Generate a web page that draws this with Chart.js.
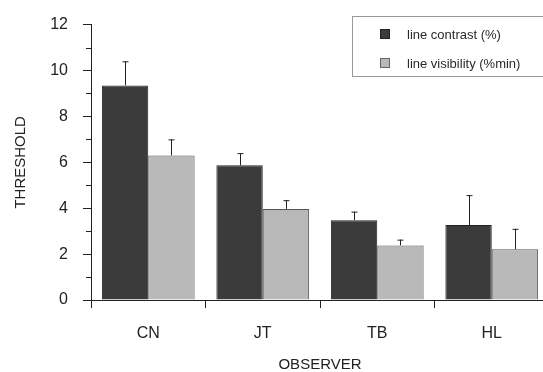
<!DOCTYPE html>
<html>
<head>
<meta charset="utf-8">
<script src="https://cdn.jsdelivr.net/npm/chart.js@4/dist/chart.umd.min.js"></script>
<style>
  html, body { margin: 0; padding: 0; background: #fff; overflow: hidden; width: 543px; height: 372px; }
  #wrap { position: relative; width: 560px; height: 372px; }
  #legend {
    position: absolute; left: 352px; top: 16px; width: 220px; height: 59px;
    border: 1px solid #999; font-family: "Liberation Sans", Arial, sans-serif;
    font-size: 13px; color: #2a2a2a;
  }
  #legend .item { position: absolute; left: 27px; height: 15px; line-height: 15px; }
  #legend .sw { position: absolute; left: 0; top: 2px; width: 10px; height: 10px; box-sizing: border-box; }
  #legend .lbl { position: absolute; left: 27px; top: 0; white-space: nowrap; }
</style>
</head>
<body>
<div id="wrap">
  <canvas id="chart" width="560" height="372"></canvas>
  <div id="legend"></div>
</div>
<script>
// Dados do gráfico
const observers = ['CN', 'JT', 'TB', 'HL'];
const seriesNames = ['line contrast (%)', 'line visibility (%min)'];
const contrast = [9.35, 5.87, 3.48, 3.27];
const contrastErr = [1.05, 0.53, 0.37, 1.3];
const visibility = [6.3, 3.97, 2.38, 2.21];
const visibilityErr = [0.7, 0.38, 0.25, 0.89];

const darkFill = '#3b3b3b';
const lightFill = '#b9b9b9';
const inkColor = '#222';
const fontFamily = '"Liberation Sans", Arial, sans-serif';

// Barras de erro (só para cima) e traços menores do eixo Y
const errorBarsPlugin = {
  id: 'errorBars',
  afterDatasetsDraw(chart) {
    const ctx = chart.ctx;
    const yScale = chart.scales.y;
    const errs = [contrastErr, visibilityErr];
    ctx.save();
    ctx.strokeStyle = inkColor;
    ctx.lineWidth = 1;
    chart.data.datasets.forEach((ds, i) => {
      const meta = chart.getDatasetMeta(i);
      meta.data.forEach((bar, j) => {
        const top = yScale.getPixelForValue(ds.data[j] + errs[i][j]);
        const x = Math.round(bar.x) + 0.5;
        ctx.beginPath();
        ctx.moveTo(x, bar.y);
        ctx.lineTo(x, top);
        ctx.moveTo(x - 3, top + 0.5);
        ctx.lineTo(x + 3, top + 0.5);
        ctx.stroke();
      });
    });
    // traços menores
    const axisX = chart.chartArea.left;
    for (let v = 1; v < 12; v += 2) {
      const y = Math.round(yScale.getPixelForValue(v)) + 0.5;
      ctx.beginPath();
      ctx.moveTo(axisX - 5, y);
      ctx.lineTo(axisX, y);
      ctx.stroke();
    }
    ctx.restore();
  }
};

const ctx = document.getElementById('chart').getContext('2d');
const chart = new Chart(ctx, {
  type: 'bar',
  data: {
    labels: observers,
    datasets: [
      {
        label: seriesNames[0],
        data: contrast,
        backgroundColor: darkFill,
        borderColor: '#222',
        borderWidth: 1,
      },
      {
        label: seriesNames[1],
        data: visibility,
        backgroundColor: lightFill,
        borderColor: '#555',
        borderWidth: 1,
      },
    ],
  },
  options: {
    responsive: false,
    animation: false,
    layout: { padding: { top: 16, right: 11, left: 0, bottom: 0 } },
    categoryPercentage: 0.81,
    barPercentage: 1.0,
    plugins: {
      legend: { display: false },
      tooltip: { enabled: false },
    },
    scales: {
      x: {
        offset: true,
        grid: {
          offset: true,
          drawOnChartArea: false,
          drawTicks: true,
          tickLength: 8,
          tickColor: inkColor,
        },
        border: { display: true, color: inkColor, width: 1 },
        ticks: {
          color: inkColor,
          padding: 16,
          font: { family: fontFamily, size: 16 },
        },
        title: {
          display: true,
          text: 'OBSERVER',
          color: inkColor,
          font: { family: fontFamily, size: 15 },
          padding: { top: 0, bottom: -2 },
        },
        afterFit(scale) { scale.height = 72; },
      },
      y: {
        min: 0,
        max: 12,
        grid: {
          drawOnChartArea: false,
          drawTicks: true,
          tickLength: 8,
          tickColor: inkColor,
        },
        border: { display: true, color: inkColor, width: 1 },
        ticks: {
          stepSize: 2,
          color: inkColor,
          padding: 15,
          font: { family: fontFamily, size: 16 },
        },
        title: {
          display: true,
          text: 'THRESHOLD',
          color: inkColor,
          font: { family: fontFamily, size: 15 },
          padding: { top: 12, bottom: 0 },
        },
        afterFit(scale) { scale.width = 91; },
      },
    },
  },
  plugins: [errorBarsPlugin],
});

// Legenda em HTML (com caixa)
const legendEl = document.getElementById('legend');
const swatches = [
  { fill: darkFill, border: '#222' },
  { fill: lightFill, border: '#666' },
];
seriesNames.forEach((name, i) => {
  const item = document.createElement('div');
  item.className = 'item';
  item.style.top = (i === 0 ? 10 : 39) + 'px';
  const sw = document.createElement('span');
  sw.className = 'sw';
  sw.style.background = swatches[i].fill;
  sw.style.border = '1px solid ' + swatches[i].border;
  const lbl = document.createElement('span');
  lbl.className = 'lbl';
  lbl.textContent = name;
  item.appendChild(sw);
  item.appendChild(lbl);
  legendEl.appendChild(item);
});
</script>
</body>
</html>
